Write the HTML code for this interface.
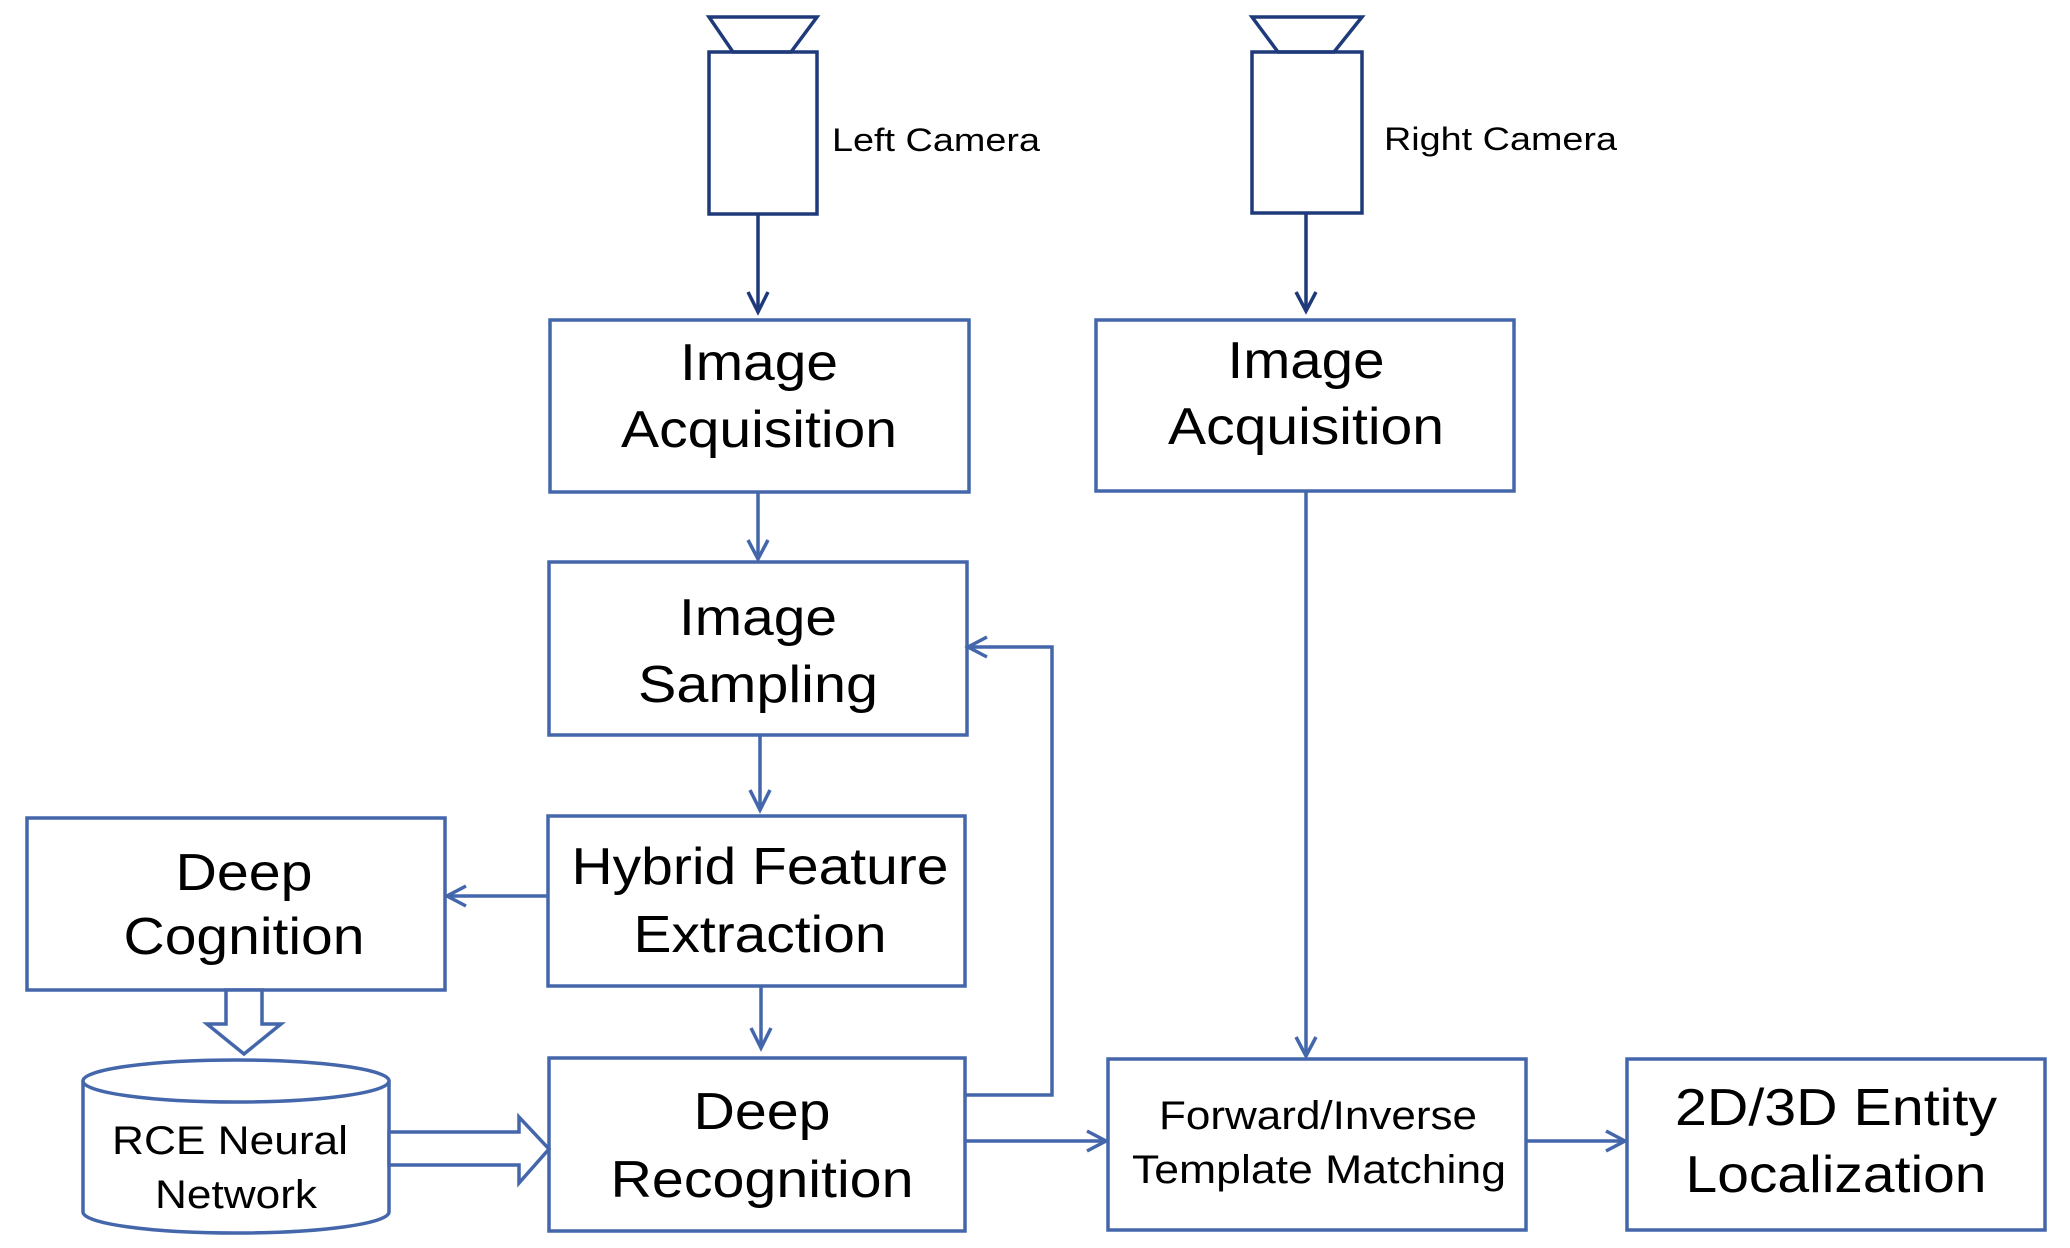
<!DOCTYPE html>
<html><head><meta charset="utf-8"><style>html,body{margin:0;padding:0;background:#fff}svg{display:block}</style></head>
<body>
<svg width="2070" height="1248" viewBox="0 0 2070 1248" xmlns="http://www.w3.org/2000/svg" font-family="Liberation Sans, Arial, sans-serif" fill="none">
<g stroke="#1f3a7a" stroke-width="3.5">
<polygon points="709,17 817,17 791,52 733,52"/>
<rect x="709" y="52" width="108" height="162"/>
<line x1="758" y1="214" x2="758" y2="312"/>
<polyline points="748,292 758,312 768,292"/>
<polygon points="1252,17 1362,17 1334,52 1278,52"/>
<rect x="1252" y="52" width="110" height="161"/>
<line x1="1306" y1="213" x2="1306" y2="311"/>
<polyline points="1296,292 1306,311 1316,292"/>
</g>
<g stroke="#4467ab" stroke-width="3.5">
<rect x="550" y="320" width="419" height="172"/>
<rect x="549" y="562" width="418" height="173"/>
<rect x="548" y="816" width="417" height="170"/>
<rect x="27" y="818" width="418" height="172"/>
<rect x="549" y="1058" width="416" height="173"/>
<rect x="1096" y="320" width="418" height="171"/>
<rect x="1108" y="1059" width="418" height="171"/>
<rect x="1627" y="1059" width="418" height="171"/>
<line x1="758" y1="492" x2="758" y2="559"/><polyline points="748,540 758,559 768,540"/>
<line x1="760" y1="735" x2="760" y2="810"/><polyline points="750,790 760,810 770,790"/>
<line x1="761" y1="986" x2="761" y2="1048"/><polyline points="751,1028 761,1048 771,1028"/>
<line x1="548" y1="896" x2="447" y2="896"/><polyline points="466,886 447,896 466,906"/>
<polyline points="965,1095 1052,1095 1052,647 968,647"/><polyline points="987,637 968,647 987,657"/>
<line x1="965" y1="1141" x2="1106" y2="1141"/><polyline points="1087,1131 1106,1141 1087,1151"/>
<line x1="1306" y1="491" x2="1306" y2="1056"/><polyline points="1296,1037 1306,1056 1316,1037"/>
<line x1="1526" y1="1141" x2="1625" y2="1141"/><polyline points="1606,1131 1625,1141 1606,1151"/>
<polygon points="226,990 262,990 262,1024 281,1024 244,1054 207,1024 226,1024" fill="#fff"/>
<path d="M83,1081 L83,1212 A153,21 0 0 0 389,1212 L389,1081" fill="#fff"/>
<ellipse cx="236" cy="1081" rx="153" ry="21" fill="#fff"/>
<polygon points="389,1132 519,1132 519,1117 549,1149 519,1183 519,1165 389,1165" fill="#fff"/>
</g>
<g fill="#000" text-anchor="middle" font-size="52" lengthAdjust="spacingAndGlyphs">
<text x="759" y="380" textLength="158" lengthAdjust="spacingAndGlyphs">Image</text>
<text x="759" y="447" textLength="276" lengthAdjust="spacingAndGlyphs">Acquisition</text>
<text x="758" y="635" textLength="158" lengthAdjust="spacingAndGlyphs">Image</text>
<text x="758" y="702" textLength="240" lengthAdjust="spacingAndGlyphs">Sampling</text>
<text x="760" y="884" textLength="377" lengthAdjust="spacingAndGlyphs">Hybrid Feature</text>
<text x="760" y="952" textLength="253" lengthAdjust="spacingAndGlyphs">Extraction</text>
<text x="244" y="890" textLength="137" lengthAdjust="spacingAndGlyphs">Deep</text>
<text x="244" y="954" textLength="241" lengthAdjust="spacingAndGlyphs">Cognition</text>
<text x="762" y="1129" textLength="137" lengthAdjust="spacingAndGlyphs">Deep</text>
<text x="762" y="1197" textLength="303" lengthAdjust="spacingAndGlyphs">Recognition</text>
<text x="1306" y="378" textLength="157" lengthAdjust="spacingAndGlyphs">Image</text>
<text x="1306" y="444" textLength="276" lengthAdjust="spacingAndGlyphs">Acquisition</text>
<text x="1836" y="1125" textLength="322" lengthAdjust="spacingAndGlyphs">2D/3D Entity</text>
<text x="1836" y="1192" textLength="301" lengthAdjust="spacingAndGlyphs">Localization</text>
<text x="1318" y="1129" font-size="40" textLength="318" lengthAdjust="spacingAndGlyphs">Forward/Inverse</text>
<text x="1319" y="1183" font-size="40" textLength="374" lengthAdjust="spacingAndGlyphs">Template Matching</text>
<text x="230" y="1154" font-size="40" textLength="236" lengthAdjust="spacingAndGlyphs">RCE Neural</text>
<text x="236" y="1208" font-size="40" textLength="162" lengthAdjust="spacingAndGlyphs">Network</text>
</g>
<g fill="#000" font-size="32">
<text x="832" y="151" textLength="208" lengthAdjust="spacingAndGlyphs">Left Camera</text>
<text x="1384" y="150" textLength="233" lengthAdjust="spacingAndGlyphs">Right Camera</text>
</g>
</svg>
</body></html>
